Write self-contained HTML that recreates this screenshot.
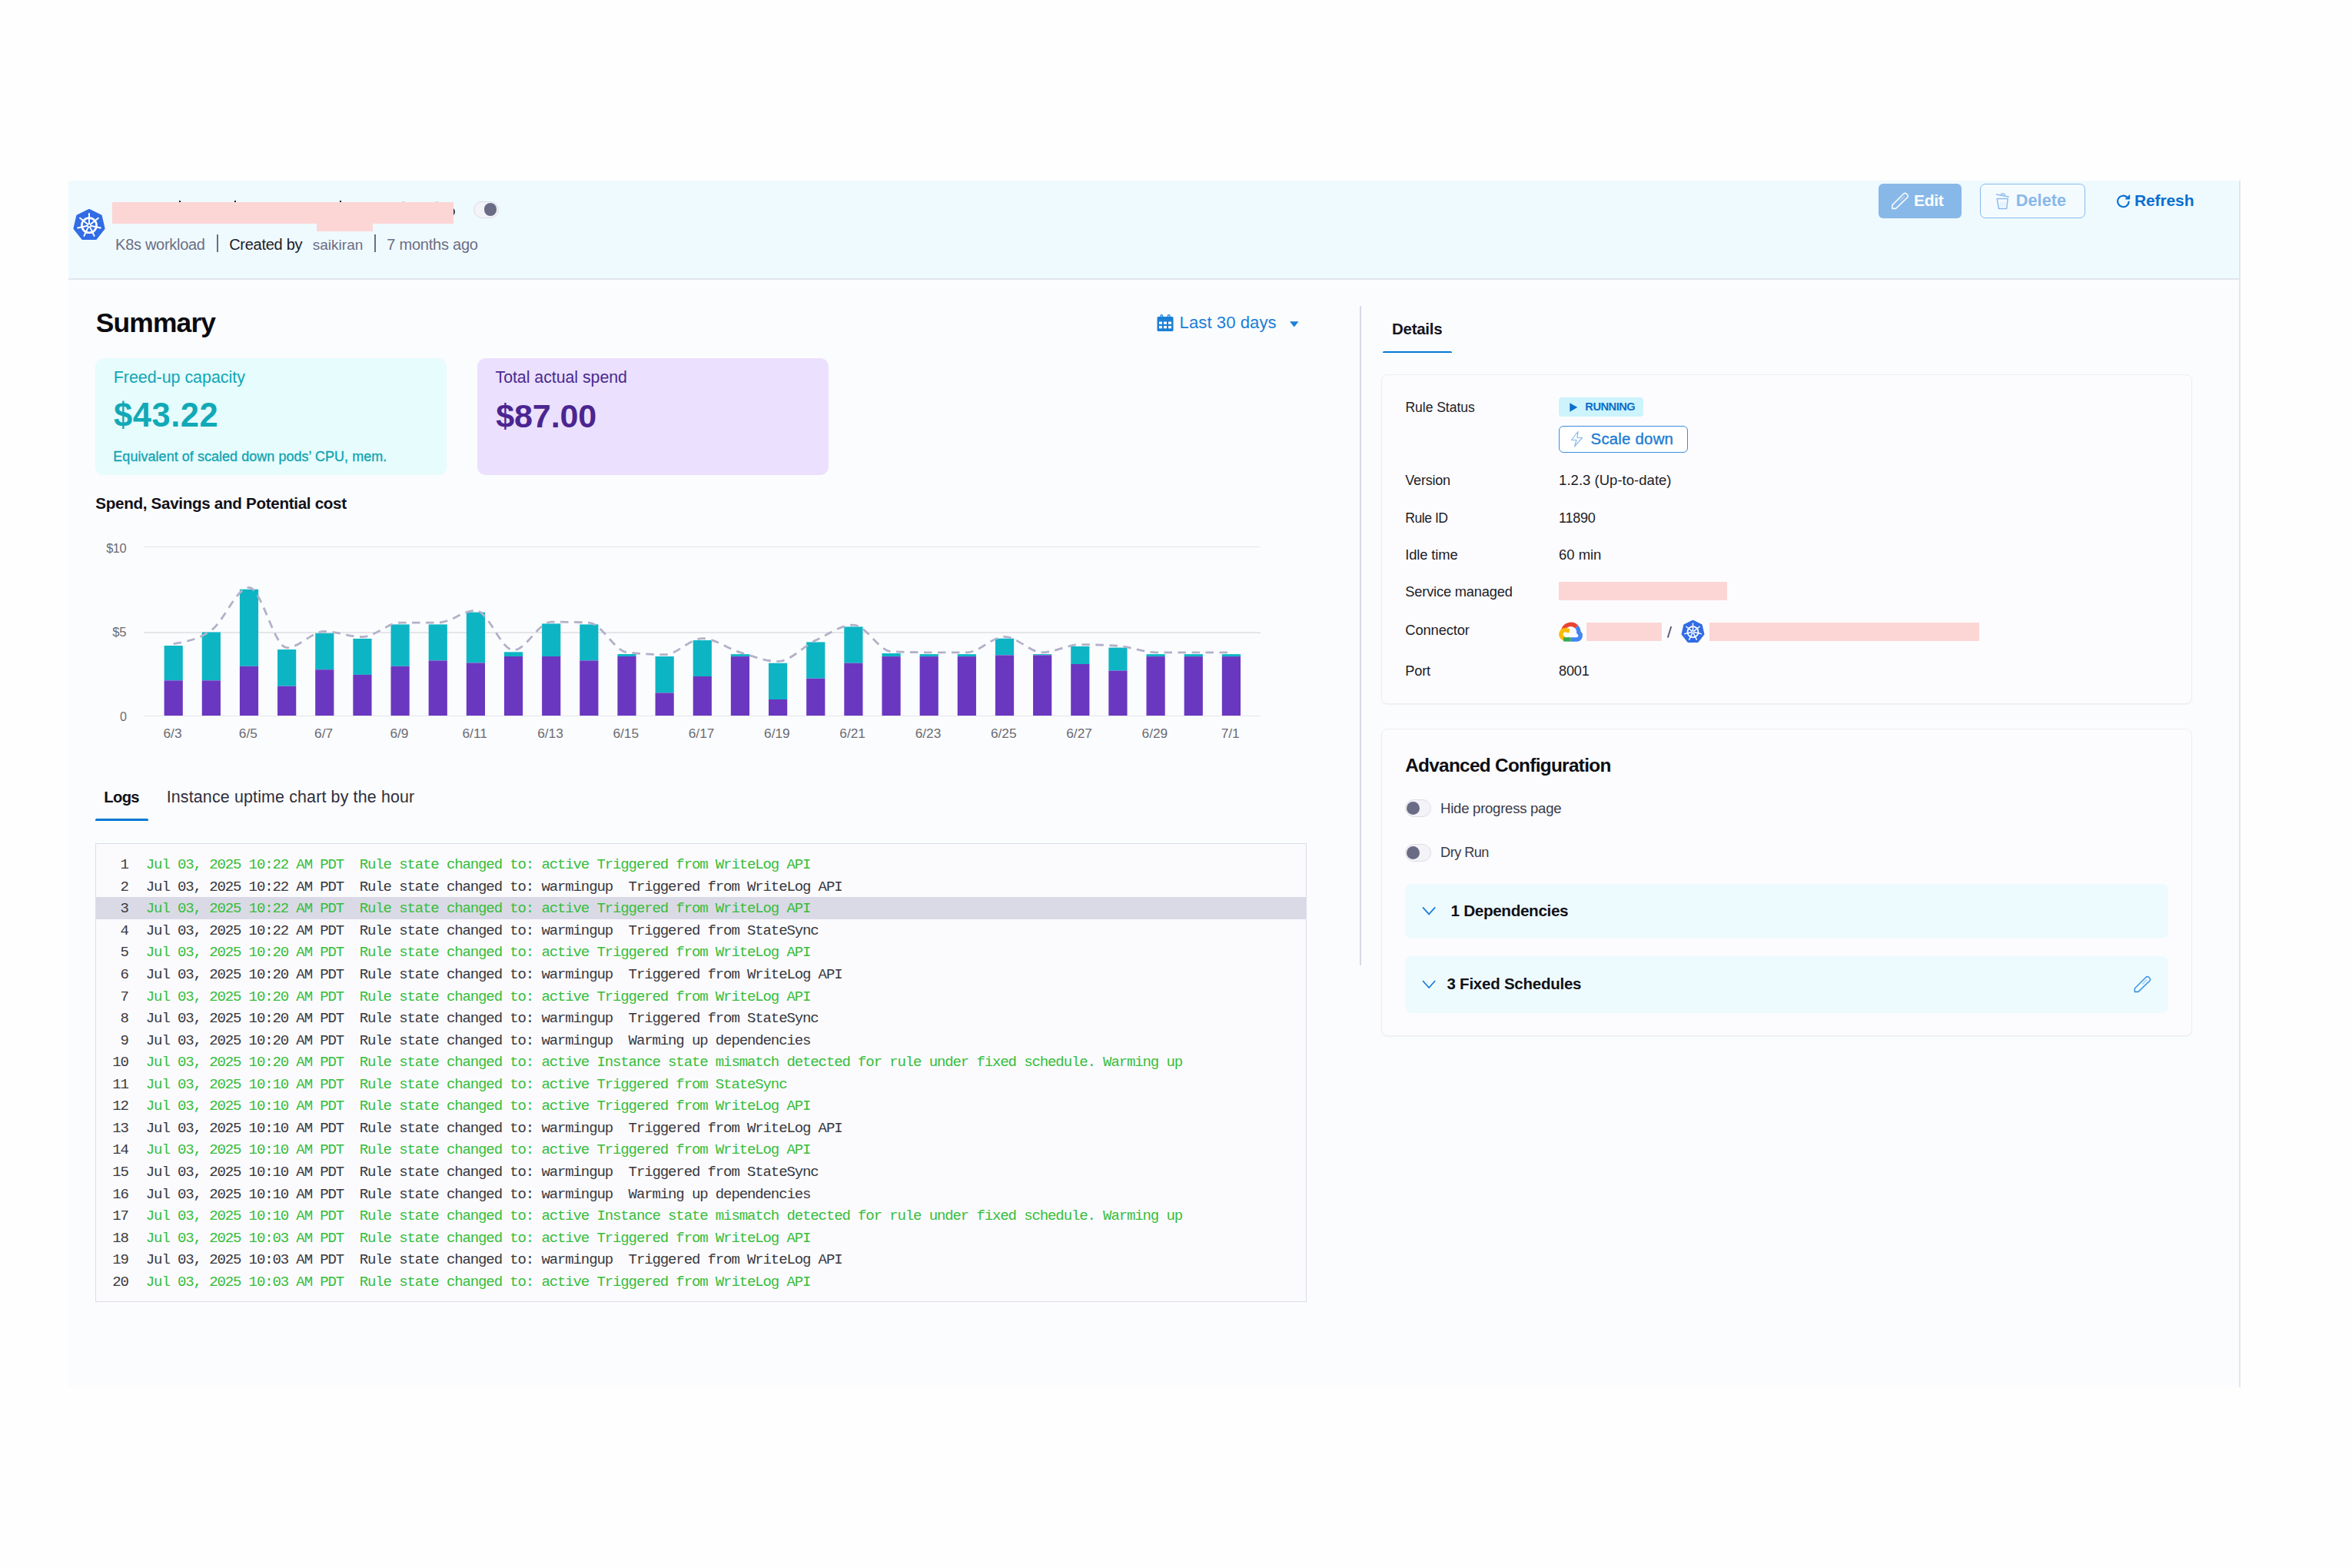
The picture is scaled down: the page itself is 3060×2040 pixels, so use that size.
<!DOCTYPE html>
<html><head><meta charset="utf-8"><title>Rule details</title>
<style>
html,body{margin:0;padding:0;}
body{width:3060px;height:2040px;position:relative;overflow:hidden;background:#fefefe;font-family:"Liberation Sans",sans-serif;}
.t{position:absolute;white-space:pre;line-height:1;}
.r{position:absolute;}
svg.ov{position:absolute;left:0;top:0;}
</style></head><body>
<div class="r" style="left:89px;top:235px;width:2824px;height:1570px;background:#fbfcfe;"></div>
<div class="r" style="left:2913px;top:235px;width:2px;height:1570px;background:#e4e4ee;"></div>
<div class="r" style="left:89px;top:235px;width:2824px;height:127px;background:#effaff;"></div>
<div class="r" style="left:89px;top:362px;width:2824px;height:2px;background:#e2e5ee;"></div>
<div class="r" style="left:146px;top:263px;width:444px;height:28px;background:#fcd6d5;"></div>
<div class="r" style="left:412px;top:291px;width:73px;height:10px;background:#fcd6d5;"></div>
<div class="r" style="left:233px;top:261px;width:2px;height:2px;background:#222;"></div>
<div class="r" style="left:305px;top:261px;width:2px;height:2px;background:#222;"></div>
<div class="r" style="left:442px;top:261px;width:2px;height:2px;background:#222;"></div>
<div class="r" style="left:590px;top:269.5px;width:1.8px;height:11px;overflow:hidden"><div style="position:absolute;left:-9.2px;top:0;width:11px;height:11px;border-radius:50%;border:2px solid #3a3a40;box-sizing:border-box"></div></div>
<div class="r" style="left:523px;top:261.8px;width:2.5px;height:1.2px;background:#c9cbd8;"></div>
<div class="r" style="left:567px;top:261.8px;width:2.5px;height:1.2px;background:#c9cbd8;"></div>
<div class="r" style="left:616px;top:262px;width:33px;height:22px;border-radius:11px;background:#f3f3f8;border:1px solid #dcdce6;box-sizing:border-box"></div>
<div class="r" style="left:630px;top:264.2px;width:16.4px;height:16.4px;border-radius:50%;background:#6a6b85"></div>
<div class="t" style="left:150.10px;top:308.11px;font-size:19.98px;color:#6b6d85;font-weight:400;font-family:'Liberation Sans', sans-serif;letter-spacing:-0.275px;">K8s workload</div>
<div class="r" style="left:282px;top:304.6px;width:2px;height:23.7px;background:#6b6d85;"></div>
<div class="t" style="left:298.20px;top:308.10px;font-size:20.01px;color:#1c1c28;font-weight:400;font-family:'Liberation Sans', sans-serif;letter-spacing:-0.267px;">Created by</div>
<div class="t" style="left:406.80px;top:309.10px;font-size:19.01px;color:#6b6d85;font-weight:400;font-family:'Liberation Sans', sans-serif;letter-spacing:0.002px;">saikiran</div>
<div class="r" style="left:487.2px;top:304.6px;width:2px;height:23.9px;background:#6b6d85;"></div>
<div class="t" style="left:503.20px;top:308.10px;font-size:20.06px;color:#6b6d85;font-weight:400;font-family:'Liberation Sans', sans-serif;letter-spacing:-0.242px;">7 months ago</div>
<div class="r" style="left:2444px;top:239px;width:108px;height:45px;border-radius:6px;background:#88b8e8"></div>
<div class="r" style="left:2576px;top:239px;width:137px;height:45px;border-radius:7px;background:#f4fbff;border:1.5px solid #8ab9ea;box-sizing:border-box"></div>
<div class="t" style="left:2490.00px;top:249.90px;font-size:21.08px;color:#ffffff;font-weight:700;font-family:'Liberation Sans', sans-serif;letter-spacing:-0.363px;">Edit</div>
<div class="t" style="left:2622.70px;top:249.90px;font-size:21.74px;color:#88b8e8;font-weight:700;font-family:'Liberation Sans', sans-serif;letter-spacing:0.045px;">Delete</div>
<div class="t" style="left:2776.90px;top:250.20px;font-size:21.04px;color:#0a6fd1;font-weight:700;font-family:'Liberation Sans', sans-serif;letter-spacing:-0.112px;">Refresh</div>
<div class="t" style="left:124.80px;top:402.10px;font-size:35.38px;color:#0b0b10;font-weight:700;font-family:'Liberation Sans', sans-serif;letter-spacing:-0.841px;">Summary</div>
<div class="t" style="left:1534.60px;top:409.10px;font-size:22.08px;color:#1b7fd6;font-weight:400;font-family:'Liberation Sans', sans-serif;letter-spacing:0.073px;">Last 30 days</div>
<div class="r" style="left:124px;top:466.3px;width:457px;height:151.6px;border-radius:11px;background:#e6fcfd"></div>
<div class="r" style="left:621px;top:466.3px;width:457px;height:151.6px;border-radius:11px;background:#ebe0fd"></div>
<div class="t" style="left:147.70px;top:480.61px;font-size:21.46px;color:#10a7b5;font-weight:400;font-family:'Liberation Sans', sans-serif;letter-spacing:-0.030px;">Freed-up capacity</div>
<div class="t" style="left:148.10px;top:519.01px;font-size:43.47px;color:#12a9b7;font-weight:700;font-family:'Liberation Sans', sans-serif;letter-spacing:0.538px;">$43.22</div>
<div class="t" style="left:147.30px;top:585.41px;font-size:17.98px;color:#0fa3b2;font-weight:400;font-family:'Liberation Sans', sans-serif;letter-spacing:0.052px;-webkit-text-stroke:0.3px #0fa3b2;">Equivalent of scaled down pods’ CPU, mem.</div>
<div class="t" style="left:644.50px;top:480.60px;font-size:21.32px;color:#4a2a8f;font-weight:400;font-family:'Liberation Sans', sans-serif;letter-spacing:-0.023px;">Total actual spend</div>
<div class="t" style="left:645.20px;top:519.50px;font-size:43.08px;color:#4b2590;font-weight:700;font-family:'Liberation Sans', sans-serif;letter-spacing:-0.143px;">$87.00</div>
<div class="t" style="left:124.30px;top:644.81px;font-size:20.62px;color:#111118;font-weight:700;font-family:'Liberation Sans', sans-serif;letter-spacing:-0.309px;">Spend, Savings and Potential cost</div>
<div class="r" style="left:186.6px;top:930.95px;width:1453px;height:1.5px;background:#e5e5ea;"></div>
<div class="r" style="left:186.6px;top:822.25px;width:1453px;height:1.5px;background:#e5e5ea;"></div>
<div class="r" style="left:186.6px;top:710.65px;width:1453px;height:1.5px;background:#e5e5ea;"></div>
<div class="t" style="left:138.20px;top:704.60px;font-size:16.32px;color:#6b6b72;font-weight:400;font-family:'Liberation Sans', sans-serif;letter-spacing:-0.457px;">$10</div>
<div class="t" style="left:146.30px;top:814.90px;font-size:16.61px;color:#6b6b72;font-weight:400;font-family:'Liberation Sans', sans-serif;letter-spacing:-0.279px;">$5</div>
<div class="t" style="left:156.00px;top:925.20px;font-size:15.99px;color:#6b6b72;font-weight:400;font-family:'Liberation Sans', sans-serif;">0</div>
<div class="t" style="left:212.48px;top:945.50px;font-size:17.3px;color:#6b6b72;font-weight:400;font-family:'Liberation Sans', sans-serif;">6/3</div>
<div class="t" style="left:310.78px;top:945.50px;font-size:17.3px;color:#6b6b72;font-weight:400;font-family:'Liberation Sans', sans-serif;">6/5</div>
<div class="t" style="left:409.08px;top:945.50px;font-size:17.3px;color:#6b6b72;font-weight:400;font-family:'Liberation Sans', sans-serif;">6/7</div>
<div class="t" style="left:507.38px;top:945.50px;font-size:17.3px;color:#6b6b72;font-weight:400;font-family:'Liberation Sans', sans-serif;">6/9</div>
<div class="t" style="left:601.50px;top:945.50px;font-size:17.3px;color:#6b6b72;font-weight:400;font-family:'Liberation Sans', sans-serif;">6/11</div>
<div class="t" style="left:699.15px;top:945.50px;font-size:17.3px;color:#6b6b72;font-weight:400;font-family:'Liberation Sans', sans-serif;">6/13</div>
<div class="t" style="left:797.45px;top:945.50px;font-size:17.3px;color:#6b6b72;font-weight:400;font-family:'Liberation Sans', sans-serif;">6/15</div>
<div class="t" style="left:895.75px;top:945.50px;font-size:17.3px;color:#6b6b72;font-weight:400;font-family:'Liberation Sans', sans-serif;">6/17</div>
<div class="t" style="left:994.05px;top:945.50px;font-size:17.3px;color:#6b6b72;font-weight:400;font-family:'Liberation Sans', sans-serif;">6/19</div>
<div class="t" style="left:1092.35px;top:945.50px;font-size:17.3px;color:#6b6b72;font-weight:400;font-family:'Liberation Sans', sans-serif;">6/21</div>
<div class="t" style="left:1190.65px;top:945.50px;font-size:17.3px;color:#6b6b72;font-weight:400;font-family:'Liberation Sans', sans-serif;">6/23</div>
<div class="t" style="left:1288.95px;top:945.50px;font-size:17.3px;color:#6b6b72;font-weight:400;font-family:'Liberation Sans', sans-serif;">6/25</div>
<div class="t" style="left:1387.25px;top:945.50px;font-size:17.3px;color:#6b6b72;font-weight:400;font-family:'Liberation Sans', sans-serif;">6/27</div>
<div class="t" style="left:1485.55px;top:945.50px;font-size:17.3px;color:#6b6b72;font-weight:400;font-family:'Liberation Sans', sans-serif;">6/29</div>
<div class="t" style="left:1588.68px;top:945.50px;font-size:17.3px;color:#6b6b72;font-weight:400;font-family:'Liberation Sans', sans-serif;">7/1</div>
<div class="t" style="left:135.30px;top:1027.31px;font-size:20.22px;color:#111118;font-weight:700;font-family:'Liberation Sans', sans-serif;letter-spacing:-0.675px;">Logs</div>
<div class="t" style="left:216.70px;top:1027.32px;font-size:21.41px;color:#2e2e3c;font-weight:400;font-family:'Liberation Sans', sans-serif;letter-spacing:0.151px;">Instance uptime chart by the hour</div>
<div class="r" style="left:124px;top:1065px;width:69px;height:3px;border-radius:2px 2px 0 0;background:#0278d5"></div>
<div class="r" style="left:124px;top:1097px;width:1576px;height:597px;border:1.5px solid #dcdce8;box-sizing:border-box;background:#fbfbfe"></div>
<div class="r" style="left:124.8px;top:1167.2px;width:1574px;height:28.6px;background:#dadae6;"></div>
<div class="t" style="left:156.51px;top:1116.20px;font-size:19.0px;color:#3a3a42;font-weight:400;font-family:'Liberation Mono', monospace;letter-spacing:-1.110px;">1</div>
<div class="t" style="left:189.80px;top:1116.20px;font-size:19.0px;color:#36bd3a;font-weight:400;font-family:'Liberation Mono', monospace;letter-spacing:-1.110px;white-space:pre;">Jul 03, 2025 10:22 AM PDT  Rule state changed to: active Triggered from WriteLog API</div>
<div class="t" style="left:156.51px;top:1144.76px;font-size:19.0px;color:#3a3a42;font-weight:400;font-family:'Liberation Mono', monospace;letter-spacing:-1.110px;">2</div>
<div class="t" style="left:189.80px;top:1144.76px;font-size:19.0px;color:#38383d;font-weight:400;font-family:'Liberation Mono', monospace;letter-spacing:-1.110px;white-space:pre;">Jul 03, 2025 10:22 AM PDT  Rule state changed to: warmingup  Triggered from WriteLog API</div>
<div class="t" style="left:156.51px;top:1173.33px;font-size:19.0px;color:#3a3a42;font-weight:400;font-family:'Liberation Mono', monospace;letter-spacing:-1.110px;">3</div>
<div class="t" style="left:189.80px;top:1173.33px;font-size:19.0px;color:#36bd3a;font-weight:400;font-family:'Liberation Mono', monospace;letter-spacing:-1.110px;white-space:pre;">Jul 03, 2025 10:22 AM PDT  Rule state changed to: active Triggered from WriteLog API</div>
<div class="t" style="left:156.51px;top:1201.89px;font-size:19.0px;color:#3a3a42;font-weight:400;font-family:'Liberation Mono', monospace;letter-spacing:-1.110px;">4</div>
<div class="t" style="left:189.80px;top:1201.89px;font-size:19.0px;color:#38383d;font-weight:400;font-family:'Liberation Mono', monospace;letter-spacing:-1.110px;white-space:pre;">Jul 03, 2025 10:22 AM PDT  Rule state changed to: warmingup  Triggered from StateSync</div>
<div class="t" style="left:156.51px;top:1230.46px;font-size:19.0px;color:#3a3a42;font-weight:400;font-family:'Liberation Mono', monospace;letter-spacing:-1.110px;">5</div>
<div class="t" style="left:189.80px;top:1230.46px;font-size:19.0px;color:#36bd3a;font-weight:400;font-family:'Liberation Mono', monospace;letter-spacing:-1.110px;white-space:pre;">Jul 03, 2025 10:20 AM PDT  Rule state changed to: active Triggered from WriteLog API</div>
<div class="t" style="left:156.51px;top:1259.00px;font-size:19.0px;color:#3a3a42;font-weight:400;font-family:'Liberation Mono', monospace;letter-spacing:-1.110px;">6</div>
<div class="t" style="left:189.80px;top:1259.00px;font-size:19.0px;color:#38383d;font-weight:400;font-family:'Liberation Mono', monospace;letter-spacing:-1.110px;white-space:pre;">Jul 03, 2025 10:20 AM PDT  Rule state changed to: warmingup  Triggered from WriteLog API</div>
<div class="t" style="left:156.51px;top:1287.56px;font-size:19.0px;color:#3a3a42;font-weight:400;font-family:'Liberation Mono', monospace;letter-spacing:-1.110px;">7</div>
<div class="t" style="left:189.80px;top:1287.56px;font-size:19.0px;color:#36bd3a;font-weight:400;font-family:'Liberation Mono', monospace;letter-spacing:-1.110px;white-space:pre;">Jul 03, 2025 10:20 AM PDT  Rule state changed to: active Triggered from WriteLog API</div>
<div class="t" style="left:156.51px;top:1316.13px;font-size:19.0px;color:#3a3a42;font-weight:400;font-family:'Liberation Mono', monospace;letter-spacing:-1.110px;">8</div>
<div class="t" style="left:189.80px;top:1316.13px;font-size:19.0px;color:#38383d;font-weight:400;font-family:'Liberation Mono', monospace;letter-spacing:-1.110px;white-space:pre;">Jul 03, 2025 10:20 AM PDT  Rule state changed to: warmingup  Triggered from StateSync</div>
<div class="t" style="left:156.51px;top:1344.69px;font-size:19.0px;color:#3a3a42;font-weight:400;font-family:'Liberation Mono', monospace;letter-spacing:-1.110px;">9</div>
<div class="t" style="left:189.80px;top:1344.69px;font-size:19.0px;color:#38383d;font-weight:400;font-family:'Liberation Mono', monospace;letter-spacing:-1.110px;white-space:pre;">Jul 03, 2025 10:20 AM PDT  Rule state changed to: warmingup  Warming up dependencies</div>
<div class="t" style="left:146.22px;top:1373.24px;font-size:19.0px;color:#3a3a42;font-weight:400;font-family:'Liberation Mono', monospace;letter-spacing:-1.110px;">10</div>
<div class="t" style="left:189.80px;top:1373.24px;font-size:19.0px;color:#36bd3a;font-weight:400;font-family:'Liberation Mono', monospace;letter-spacing:-1.110px;white-space:pre;">Jul 03, 2025 10:20 AM PDT  Rule state changed to: active Instance state mismatch detected for rule under fixed schedule. Warming up</div>
<div class="t" style="left:146.22px;top:1401.82px;font-size:19.0px;color:#3a3a42;font-weight:400;font-family:'Liberation Mono', monospace;letter-spacing:-1.110px;">11</div>
<div class="t" style="left:189.80px;top:1401.82px;font-size:19.0px;color:#36bd3a;font-weight:400;font-family:'Liberation Mono', monospace;letter-spacing:-1.110px;white-space:pre;">Jul 03, 2025 10:10 AM PDT  Rule state changed to: active Triggered from StateSync</div>
<div class="t" style="left:146.22px;top:1430.37px;font-size:19.0px;color:#3a3a42;font-weight:400;font-family:'Liberation Mono', monospace;letter-spacing:-1.110px;">12</div>
<div class="t" style="left:189.80px;top:1430.37px;font-size:19.0px;color:#36bd3a;font-weight:400;font-family:'Liberation Mono', monospace;letter-spacing:-1.110px;white-space:pre;">Jul 03, 2025 10:10 AM PDT  Rule state changed to: active Triggered from WriteLog API</div>
<div class="t" style="left:146.22px;top:1458.93px;font-size:19.0px;color:#3a3a42;font-weight:400;font-family:'Liberation Mono', monospace;letter-spacing:-1.110px;">13</div>
<div class="t" style="left:189.80px;top:1458.93px;font-size:19.0px;color:#38383d;font-weight:400;font-family:'Liberation Mono', monospace;letter-spacing:-1.110px;white-space:pre;">Jul 03, 2025 10:10 AM PDT  Rule state changed to: warmingup  Triggered from WriteLog API</div>
<div class="t" style="left:146.22px;top:1487.49px;font-size:19.0px;color:#3a3a42;font-weight:400;font-family:'Liberation Mono', monospace;letter-spacing:-1.110px;">14</div>
<div class="t" style="left:189.80px;top:1487.49px;font-size:19.0px;color:#36bd3a;font-weight:400;font-family:'Liberation Mono', monospace;letter-spacing:-1.110px;white-space:pre;">Jul 03, 2025 10:10 AM PDT  Rule state changed to: active Triggered from WriteLog API</div>
<div class="t" style="left:146.22px;top:1516.04px;font-size:19.0px;color:#3a3a42;font-weight:400;font-family:'Liberation Mono', monospace;letter-spacing:-1.110px;">15</div>
<div class="t" style="left:189.80px;top:1516.04px;font-size:19.0px;color:#38383d;font-weight:400;font-family:'Liberation Mono', monospace;letter-spacing:-1.110px;white-space:pre;">Jul 03, 2025 10:10 AM PDT  Rule state changed to: warmingup  Triggered from StateSync</div>
<div class="t" style="left:146.22px;top:1544.60px;font-size:19.0px;color:#3a3a42;font-weight:400;font-family:'Liberation Mono', monospace;letter-spacing:-1.110px;">16</div>
<div class="t" style="left:189.80px;top:1544.60px;font-size:19.0px;color:#38383d;font-weight:400;font-family:'Liberation Mono', monospace;letter-spacing:-1.110px;white-space:pre;">Jul 03, 2025 10:10 AM PDT  Rule state changed to: warmingup  Warming up dependencies</div>
<div class="t" style="left:146.22px;top:1573.16px;font-size:19.0px;color:#3a3a42;font-weight:400;font-family:'Liberation Mono', monospace;letter-spacing:-1.110px;">17</div>
<div class="t" style="left:189.80px;top:1573.16px;font-size:19.0px;color:#36bd3a;font-weight:400;font-family:'Liberation Mono', monospace;letter-spacing:-1.110px;white-space:pre;">Jul 03, 2025 10:10 AM PDT  Rule state changed to: active Instance state mismatch detected for rule under fixed schedule. Warming up</div>
<div class="t" style="left:146.22px;top:1601.73px;font-size:19.0px;color:#3a3a42;font-weight:400;font-family:'Liberation Mono', monospace;letter-spacing:-1.110px;">18</div>
<div class="t" style="left:189.80px;top:1601.73px;font-size:19.0px;color:#36bd3a;font-weight:400;font-family:'Liberation Mono', monospace;letter-spacing:-1.110px;white-space:pre;">Jul 03, 2025 10:03 AM PDT  Rule state changed to: active Triggered from WriteLog API</div>
<div class="t" style="left:146.22px;top:1630.29px;font-size:19.0px;color:#3a3a42;font-weight:400;font-family:'Liberation Mono', monospace;letter-spacing:-1.110px;">19</div>
<div class="t" style="left:189.80px;top:1630.29px;font-size:19.0px;color:#38383d;font-weight:400;font-family:'Liberation Mono', monospace;letter-spacing:-1.110px;white-space:pre;">Jul 03, 2025 10:03 AM PDT  Rule state changed to: warmingup  Triggered from WriteLog API</div>
<div class="t" style="left:146.22px;top:1658.85px;font-size:19.0px;color:#3a3a42;font-weight:400;font-family:'Liberation Mono', monospace;letter-spacing:-1.110px;">20</div>
<div class="t" style="left:189.80px;top:1658.85px;font-size:19.0px;color:#36bd3a;font-weight:400;font-family:'Liberation Mono', monospace;letter-spacing:-1.110px;white-space:pre;">Jul 03, 2025 10:03 AM PDT  Rule state changed to: active Triggered from WriteLog API</div>
<div class="r" style="left:1769px;top:398px;width:2px;height:858px;background:#d9d9e5;"></div>
<div class="t" style="left:1811.00px;top:418.22px;font-size:20.47px;color:#15151f;font-weight:700;font-family:'Liberation Sans', sans-serif;letter-spacing:-0.257px;">Details</div>
<div class="r" style="left:1799px;top:456.6px;width:90px;height:2.5px;border-radius:1.5px 1.5px 0 0;background:#0278d5"></div>
<div class="r" style="left:1797px;top:486.6px;width:1054.8px;height:429.8px;border-radius:8px;background:#fcfcfe;border:1.6px solid #eeeef3;box-sizing:border-box;box-shadow:0 1px 1.5px rgba(40,40,80,0.05)"></div>
<div class="t" style="left:1828.40px;top:521.82px;font-size:17.55px;color:#1c1c28;font-weight:400;font-family:'Liberation Sans', sans-serif;letter-spacing:-0.023px;">Rule Status</div>
<div class="r" style="left:2028px;top:517px;width:110px;height:25px;border-radius:4px;background:#cdf3fd"></div>
<div class="t" style="left:2062.30px;top:522.21px;font-size:14.65px;color:#0b6ec9;font-weight:700;font-family:'Liberation Sans', sans-serif;letter-spacing:-0.480px;">RUNNING</div>
<div class="r" style="left:2028px;top:554px;width:168px;height:35px;border-radius:6px;background:#fff;border:1.6px solid #3a8de0;box-sizing:border-box"></div>
<div class="t" style="left:2069.60px;top:560.91px;font-size:20.42px;color:#1b7bd4;font-weight:400;font-family:'Liberation Sans', sans-serif;letter-spacing:0.203px;-webkit-text-stroke:0.35px #1b7bd4;">Scale down</div>
<div class="t" style="left:1828.30px;top:615.81px;font-size:18.06px;color:#1c1c28;font-weight:400;font-family:'Liberation Sans', sans-serif;letter-spacing:-0.222px;">Version</div>
<div class="t" style="left:2028.10px;top:615.80px;font-size:18.51px;color:#1c1c28;font-weight:400;font-family:'Liberation Sans', sans-serif;letter-spacing:0.024px;">1.2.3 (Up-to-date)</div>
<div class="t" style="left:1828.30px;top:665.91px;font-size:17.58px;color:#1c1c28;font-weight:400;font-family:'Liberation Sans', sans-serif;letter-spacing:-0.488px;">Rule ID</div>
<div class="t" style="left:2028.10px;top:664.91px;font-size:18.06px;color:#1c1c28;font-weight:400;font-family:'Liberation Sans', sans-serif;letter-spacing:-0.274px;">11890</div>
<div class="t" style="left:1828.30px;top:713.20px;font-size:18.35px;color:#1c1c28;font-weight:400;font-family:'Liberation Sans', sans-serif;letter-spacing:-0.120px;">Idle time</div>
<div class="t" style="left:2028.10px;top:713.20px;font-size:18.51px;color:#1c1c28;font-weight:400;font-family:'Liberation Sans', sans-serif;letter-spacing:-0.055px;">60 min</div>
<div class="t" style="left:1828.30px;top:761.40px;font-size:18.27px;color:#1c1c28;font-weight:400;font-family:'Liberation Sans', sans-serif;letter-spacing:-0.185px;">Service managed</div>
<div class="t" style="left:1828.30px;top:810.81px;font-size:18.37px;color:#1c1c28;font-weight:400;font-family:'Liberation Sans', sans-serif;letter-spacing:-0.135px;">Connector</div>
<div class="t" style="left:1828.30px;top:863.91px;font-size:18.19px;color:#1c1c28;font-weight:400;font-family:'Liberation Sans', sans-serif;letter-spacing:-0.160px;">Port</div>
<div class="t" style="left:2028.10px;top:863.91px;font-size:18.17px;color:#1c1c28;font-weight:400;font-family:'Liberation Sans', sans-serif;letter-spacing:-0.209px;">8001</div>
<div class="r" style="left:2028px;top:757px;width:219px;height:24px;background:#fcd6d5;"></div>
<div class="r" style="left:2064px;top:809.5px;width:98px;height:24.5px;background:#fcd6d5;"></div>
<div class="r" style="left:2224px;top:809.5px;width:351px;height:24.5px;background:#fcd6d5;"></div>
<div class="r" style="left:1797px;top:947.6px;width:1054.8px;height:400.8px;border-radius:8px;background:#fcfcfe;border:1.6px solid #eeeef3;box-sizing:border-box;box-shadow:0 1px 1.5px rgba(40,40,80,0.05)"></div>
<div class="t" style="left:1828.20px;top:984.31px;font-size:24.33px;color:#0e0e14;font-weight:700;font-family:'Liberation Sans', sans-serif;letter-spacing:-0.687px;">Advanced Configuration</div>
<div class="r" style="left:1827.5px;top:1039.8px;width:34px;height:23px;border-radius:11.5px;background:#f3f3f8;border:1px solid #dcdce6;box-sizing:border-box"></div>
<div class="r" style="left:1830px;top:1042.8px;width:17px;height:17px;border-radius:50%;background:#6a6b85"></div>
<div class="t" style="left:1874.10px;top:1042.82px;font-size:18.55px;color:#3a3b48;font-weight:400;font-family:'Liberation Sans', sans-serif;letter-spacing:-0.253px;">Hide progress page</div>
<div class="r" style="left:1827.5px;top:1097.8px;width:34px;height:23px;border-radius:11.5px;background:#f3f3f8;border:1px solid #dcdce6;box-sizing:border-box"></div>
<div class="r" style="left:1830px;top:1100.8px;width:17px;height:17px;border-radius:50%;background:#6a6b85"></div>
<div class="t" style="left:1874.10px;top:1100.31px;font-size:18.15px;color:#3a3b48;font-weight:400;font-family:'Liberation Sans', sans-serif;letter-spacing:-0.544px;">Dry Run</div>
<div class="r" style="left:1828px;top:1149.6px;width:993px;height:71px;border-radius:8px;background:#eefbfe"></div>
<div class="r" style="left:1828px;top:1244px;width:993px;height:74px;border-radius:8px;background:#eefbfe"></div>
<div class="t" style="left:1887.60px;top:1174.71px;font-size:20.74px;color:#111118;font-weight:700;font-family:'Liberation Sans', sans-serif;letter-spacing:-0.372px;">1 Dependencies</div>
<div class="t" style="left:1882.50px;top:1270.10px;font-size:20.49px;color:#111118;font-weight:700;font-family:'Liberation Sans', sans-serif;letter-spacing:-0.236px;">3 Fixed Schedules</div>
<svg class="ov" width="3060" height="2040" viewBox="0 0 3060 2040">
<polygon points="116.00,273.47 131.27,280.82 135.04,297.35 124.47,310.60 107.53,310.60 96.96,297.35 100.73,280.82" fill="#326ce5" stroke="#326ce5" stroke-width="3.00" stroke-linejoin="round"/><circle cx="116" cy="293.2" r="9.60" fill="none" stroke="#fff" stroke-width="2.60"/><line x1="116.00" y1="291.00" x2="116.00" y2="278.00" stroke="#fff" stroke-width="2.00" stroke-linecap="round"/><line x1="117.72" y1="291.83" x2="127.88" y2="283.72" stroke="#fff" stroke-width="2.00" stroke-linecap="round"/><line x1="118.14" y1="293.69" x2="130.82" y2="296.58" stroke="#fff" stroke-width="2.00" stroke-linecap="round"/><line x1="116.95" y1="295.18" x2="122.60" y2="306.89" stroke="#fff" stroke-width="2.00" stroke-linecap="round"/><line x1="115.05" y1="295.18" x2="109.40" y2="306.89" stroke="#fff" stroke-width="2.00" stroke-linecap="round"/><line x1="113.86" y1="293.69" x2="101.18" y2="296.58" stroke="#fff" stroke-width="2.00" stroke-linecap="round"/><line x1="114.28" y1="291.83" x2="104.12" y2="283.72" stroke="#fff" stroke-width="2.00" stroke-linecap="round"/><circle cx="116" cy="293.2" r="2.60" fill="#fff"/><circle cx="116" cy="293.2" r="1.30" fill="#326ce5"/>
<path d="M2461.80,266.94 L2476.43,252.30 Q2478.52,250.40 2480.52,252.30 L2481.47,253.25 Q2483.27,255.25 2481.37,257.15 L2466.46,271.40 L2461.80,271.40 Z" fill="none" stroke="#ffffff" stroke-width="1.6" stroke-linejoin="round" opacity="0.92"/><path d="M2477.57,255.63 L2472.44,260.57" stroke="#ffffff" stroke-width="2.08" opacity="0.28" stroke-linecap="round"/>
<g fill="none" stroke="#8cbbea" stroke-width="1.5" stroke-linejoin="round" stroke-linecap="round"><path d="M2597.6,252.9 L2613.2,256.1"/><path d="M2603.6,253.8 L2604.2,251.6 L2608.1,252.4 L2608.1,254.7" stroke-width="1.3"/><path d="M2598.2,258.6 L2612.2,258.6 L2610.7,271.5 L2600.5,271.5 Z"/><path d="M2602.9,263 L2603.2,268.5 M2605.6,263 L2605.6,268.5 M2608.3,263 L2608,268.5" stroke-width="0.9" opacity="0.35"/></g>
<path d="M2769.6,262.6 A7.25,7.25 0 1 1 2767.6,256.9" fill="none" stroke="#0a6fd1" stroke-width="2.1" stroke-linecap="round"/><path d="M2770.7,253.7 L2770.7,259 L2765.4,259 Z" fill="#0a6fd1" stroke="#0a6fd1" stroke-width="1" stroke-linejoin="round"/>
<g fill="#1b7fd6"><rect x="1505.5" y="412" width="21" height="19" rx="1.5"/></g><g fill="#fafbfe"><rect x="1508" y="418.5" width="4" height="3.3"/><rect x="1514" y="418.5" width="4" height="3.3"/><rect x="1520" y="418.5" width="4" height="3.3"/><rect x="1508" y="424" width="4" height="3.3"/><rect x="1514" y="424" width="4" height="3.3"/><rect x="1520" y="424" width="4" height="3.3"/></g><g fill="none" stroke="#1b7fd6" stroke-width="1.3"><rect x="1510" y="409.6" width="2.6" height="3.2" rx="1.2"/><rect x="1519.4" y="409.6" width="2.6" height="3.2" rx="1.2"/></g>
<path d="M1678,418.3 L1689.5,418.3 L1683.75,425.6 Z" fill="#1b7fd6"/>
<rect x="213.60" y="840" width="24.2" height="45.30" fill="#0db5c4"/>
<rect x="213.60" y="885.3" width="24.2" height="45.70" fill="#6a37c0"/>
<rect x="262.75" y="822.5" width="24.2" height="62.80" fill="#0db5c4"/>
<rect x="262.75" y="885.3" width="24.2" height="45.70" fill="#6a37c0"/>
<rect x="311.90" y="766.7" width="24.2" height="100.10" fill="#0db5c4"/>
<rect x="311.90" y="866.8" width="24.2" height="64.20" fill="#6a37c0"/>
<rect x="361.05" y="845" width="24.2" height="47.70" fill="#0db5c4"/>
<rect x="361.05" y="892.7" width="24.2" height="38.30" fill="#6a37c0"/>
<rect x="410.20" y="823.8" width="24.2" height="47.40" fill="#0db5c4"/>
<rect x="410.20" y="871.2" width="24.2" height="59.80" fill="#6a37c0"/>
<rect x="459.35" y="830.9" width="24.2" height="47.00" fill="#0db5c4"/>
<rect x="459.35" y="877.9" width="24.2" height="53.10" fill="#6a37c0"/>
<rect x="508.50" y="812.4" width="24.2" height="54.40" fill="#0db5c4"/>
<rect x="508.50" y="866.8" width="24.2" height="64.20" fill="#6a37c0"/>
<rect x="557.65" y="812.4" width="24.2" height="47.00" fill="#0db5c4"/>
<rect x="557.65" y="859.4" width="24.2" height="71.60" fill="#6a37c0"/>
<rect x="606.80" y="796.6" width="24.2" height="65.80" fill="#0db5c4"/>
<rect x="606.80" y="862.4" width="24.2" height="68.60" fill="#6a37c0"/>
<rect x="655.95" y="848.3" width="24.2" height="5.70" fill="#0db5c4"/>
<rect x="655.95" y="854" width="24.2" height="77.00" fill="#6a37c0"/>
<rect x="705.10" y="811.4" width="24.2" height="42.60" fill="#0db5c4"/>
<rect x="705.10" y="854" width="24.2" height="77.00" fill="#6a37c0"/>
<rect x="754.25" y="812.4" width="24.2" height="47.00" fill="#0db5c4"/>
<rect x="754.25" y="859.4" width="24.2" height="71.60" fill="#6a37c0"/>
<rect x="803.40" y="851" width="24.2" height="3.00" fill="#0db5c4"/>
<rect x="803.40" y="854" width="24.2" height="77.00" fill="#6a37c0"/>
<rect x="852.55" y="854" width="24.2" height="47.40" fill="#0db5c4"/>
<rect x="852.55" y="901.4" width="24.2" height="29.60" fill="#6a37c0"/>
<rect x="901.70" y="833" width="24.2" height="47.00" fill="#0db5c4"/>
<rect x="901.70" y="880" width="24.2" height="51.00" fill="#6a37c0"/>
<rect x="950.85" y="851.1" width="24.2" height="3.00" fill="#0db5c4"/>
<rect x="950.85" y="854.1" width="24.2" height="76.90" fill="#6a37c0"/>
<rect x="1000.00" y="862.7" width="24.2" height="47.30" fill="#0db5c4"/>
<rect x="1000.00" y="910" width="24.2" height="21.00" fill="#6a37c0"/>
<rect x="1049.15" y="835.4" width="24.2" height="47.30" fill="#0db5c4"/>
<rect x="1049.15" y="882.7" width="24.2" height="48.30" fill="#6a37c0"/>
<rect x="1098.30" y="815.4" width="24.2" height="47.30" fill="#0db5c4"/>
<rect x="1098.30" y="862.7" width="24.2" height="68.30" fill="#6a37c0"/>
<rect x="1147.45" y="850" width="24.2" height="4.10" fill="#0db5c4"/>
<rect x="1147.45" y="854.1" width="24.2" height="76.90" fill="#6a37c0"/>
<rect x="1196.60" y="851.1" width="24.2" height="3.00" fill="#0db5c4"/>
<rect x="1196.60" y="854.1" width="24.2" height="76.90" fill="#6a37c0"/>
<rect x="1245.75" y="851.1" width="24.2" height="3.00" fill="#0db5c4"/>
<rect x="1245.75" y="854.1" width="24.2" height="76.90" fill="#6a37c0"/>
<rect x="1294.90" y="830.7" width="24.2" height="21.70" fill="#0db5c4"/>
<rect x="1294.90" y="852.4" width="24.2" height="78.60" fill="#6a37c0"/>
<rect x="1344.05" y="851.1" width="24.2" height="1.30" fill="#0db5c4"/>
<rect x="1344.05" y="852.4" width="24.2" height="78.60" fill="#6a37c0"/>
<rect x="1393.20" y="840.9" width="24.2" height="23.10" fill="#0db5c4"/>
<rect x="1393.20" y="864" width="24.2" height="67.00" fill="#6a37c0"/>
<rect x="1442.35" y="842.6" width="24.2" height="29.90" fill="#0db5c4"/>
<rect x="1442.35" y="872.5" width="24.2" height="58.50" fill="#6a37c0"/>
<rect x="1491.50" y="851.1" width="24.2" height="3.00" fill="#0db5c4"/>
<rect x="1491.50" y="854.1" width="24.2" height="76.90" fill="#6a37c0"/>
<rect x="1540.65" y="851.1" width="24.2" height="3.00" fill="#0db5c4"/>
<rect x="1540.65" y="854.1" width="24.2" height="76.90" fill="#6a37c0"/>
<rect x="1589.80" y="851.1" width="24.2" height="3.00" fill="#0db5c4"/>
<rect x="1589.80" y="854.1" width="24.2" height="76.90" fill="#6a37c0"/>
<path d="M225.70,837.70 C242.08,834.78 258.47,831.87 274.85,820.20 C291.23,808.53 307.62,764.40 324.00,764.40 C340.38,764.40 356.77,842.70 373.15,842.70 C389.53,842.70 405.92,821.50 422.30,821.50 C438.68,821.50 455.07,828.60 471.45,828.60 C487.83,828.60 504.22,810.10 520.60,810.10 C536.98,810.10 553.37,810.10 569.75,810.10 C586.13,810.10 602.52,794.30 618.90,794.30 C635.28,794.30 651.67,846.00 668.05,846.00 C684.43,846.00 700.82,809.10 717.20,809.10 C733.58,809.10 749.97,809.43 766.35,810.10 C782.73,810.77 799.12,846.70 815.50,848.70 C831.88,850.70 848.27,851.70 864.65,851.70 C881.03,851.70 897.42,830.70 913.80,830.70 C930.18,830.70 946.57,843.85 962.95,848.80 C979.33,853.75 995.72,860.40 1012.10,860.40 C1028.48,860.40 1044.87,840.98 1061.25,833.10 C1077.63,825.22 1094.02,813.10 1110.40,813.10 C1126.78,813.10 1143.17,846.97 1159.55,847.70 C1175.93,848.43 1192.32,848.80 1208.70,848.80 C1225.08,848.80 1241.47,848.80 1257.85,848.80 C1274.23,848.80 1290.62,828.40 1307.00,828.40 C1323.38,828.40 1339.77,848.80 1356.15,848.80 C1372.53,848.80 1388.92,838.60 1405.30,838.60 C1421.68,838.60 1438.07,839.17 1454.45,840.30 C1470.83,841.43 1487.22,848.80 1503.60,848.80 C1519.98,848.80 1536.37,848.80 1552.75,848.80 C1569.13,848.80 1585.52,848.80 1601.90,848.80" fill="none" stroke="#b3b1c8" stroke-width="2.8" stroke-dasharray="10.5 7.5"/>
<path d="M2042.3,524.3 L2052.3,530 L2042.3,535.8 Z" fill="#0b6ec9"/>
<path d="M2053,561.5 L2044.5,572.5 L2051,572.5 L2048.5,580.8 L2058.5,569.5 L2052,569.5 Z" fill="none" stroke="#8ab8ea" stroke-width="1.2" stroke-linejoin="round"/>
<line x1="2174.3" y1="815" x2="2169.8" y2="829.6" stroke="#5c5f7a" stroke-width="1.9"/>
<polygon points="2202.50,807.77 2213.62,813.13 2216.37,825.17 2208.67,834.82 2196.33,834.82 2188.63,825.17 2191.38,813.13" fill="#326ce5" stroke="#326ce5" stroke-width="2.19" stroke-linejoin="round"/><circle cx="2202.5" cy="822.1457142857142" r="6.99" fill="none" stroke="#fff" stroke-width="1.89"/><line x1="2202.50" y1="820.54" x2="2202.50" y2="811.07" stroke="#fff" stroke-width="1.46" stroke-linecap="round"/><line x1="2203.75" y1="821.15" x2="2211.16" y2="815.24" stroke="#fff" stroke-width="1.46" stroke-linecap="round"/><line x1="2204.06" y1="822.50" x2="2213.30" y2="824.61" stroke="#fff" stroke-width="1.46" stroke-linecap="round"/><line x1="2203.20" y1="823.59" x2="2207.30" y2="832.12" stroke="#fff" stroke-width="1.46" stroke-linecap="round"/><line x1="2201.80" y1="823.59" x2="2197.70" y2="832.12" stroke="#fff" stroke-width="1.46" stroke-linecap="round"/><line x1="2200.94" y1="822.50" x2="2191.70" y2="824.61" stroke="#fff" stroke-width="1.46" stroke-linecap="round"/><line x1="2201.25" y1="821.15" x2="2193.84" y2="815.24" stroke="#fff" stroke-width="1.46" stroke-linecap="round"/><circle cx="2202.5" cy="822.1457142857142" r="1.89" fill="#fff"/><circle cx="2202.5" cy="822.1457142857142" r="0.95" fill="#326ce5"/>
<g fill="none" stroke-width="5.5" stroke-linecap="butt">
<path d="M2033.75,819.93 A10.3,10.3 0 0 1 2051.35,815.71" stroke="#ea4335"/>
<path d="M2051.35,815.71 A10.3,10.3 0 0 1 2053.90,821.17 L2053.75,822.76 A4.9,4.9 0 0 1 2051.30,831.90 L2043.5,831.9" stroke="#4285f4" stroke-linejoin="round"/>
<path d="M2035.61,830.91 A5.7,5.7 0 1 1 2039.45,820.36 L2042,820.6" stroke="#fbbc05"/>
<path d="M2043.6,831.9 L2034.2,831.9" stroke="#34a853"/>
</g>
<path d="M1851,1180.3 L1859.1,1189.3 L1867.2,1180.3" fill="none" stroke="#1b7fd6" stroke-width="1.8"/>
<path d="M1851,1276 L1859.1,1285 L1867.2,1276" fill="none" stroke="#1b7fd6" stroke-width="1.8"/>
<path d="M2777.30,1285.98 L2791.78,1271.51 Q2793.84,1269.63 2795.82,1271.51 L2796.76,1272.45 Q2798.54,1274.42 2796.66,1276.30 L2781.91,1290.40 L2777.30,1290.40 Z" fill="none" stroke="#2f8be0" stroke-width="1.6" stroke-linejoin="round" opacity="0.9"/><path d="M2792.90,1274.80 L2787.83,1279.68" stroke="#2f8be0" stroke-width="2.08" opacity="0.27" stroke-linecap="round"/>
</svg>
</body></html>
